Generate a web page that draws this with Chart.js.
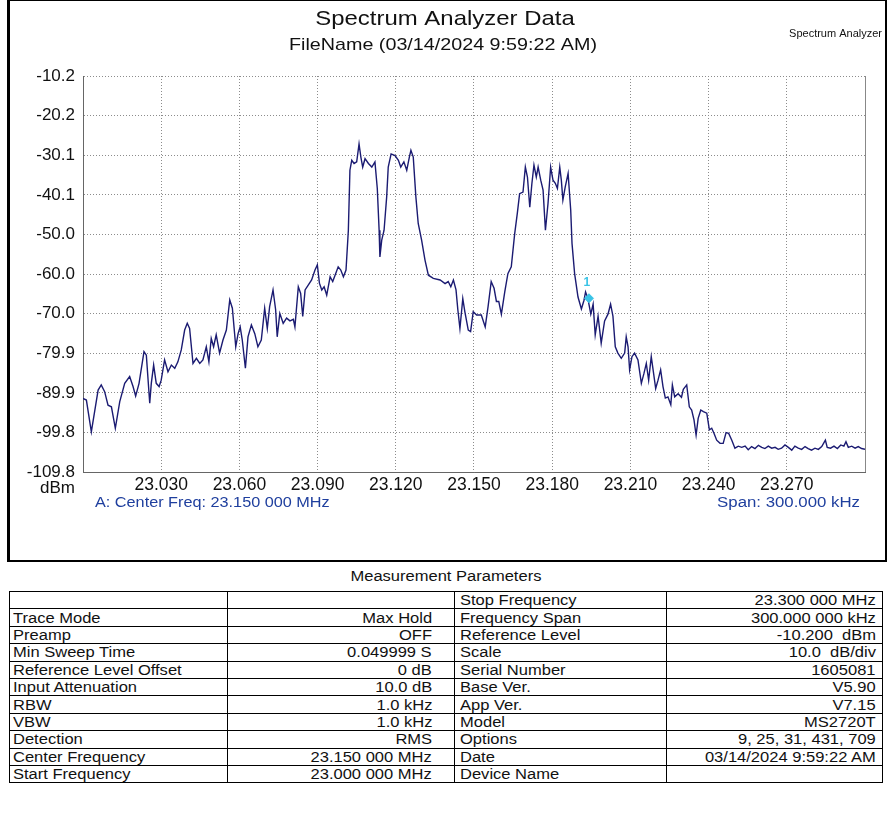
<!DOCTYPE html>
<html>
<head>
<meta charset="utf-8">
<script src="https://cdn.jsdelivr.net/npm/chart.js@4.4.1/dist/chart.umd.min.js"></script>
<style>
  html, body { margin: 0; padding: 0; background: #fff; }
  body { width: 891px; height: 820px; position: relative; overflow: hidden;
         font-family: 'Liberation Sans', Arial, sans-serif; color: #111; }
  #frame { position: absolute; left: 7px; top: 0px; width: 875px; height: 559px;
           border: 2px solid #000; border-left-width: 3px; border-top-width: 1px; box-sizing: content-box; }
  #plot { position: absolute; left: 0; top: 0; }
  #caption { position: absolute; left: 0; width: 891px; top: 568px; text-align: center;
             font-size: 14px; line-height: 17px; }
  #caption span, td span { display: inline-block; transform: scaleX(1.18); }
  #caption span { transform-origin: center; }
  td span { transform-origin: left center; }
  td.v span { transform-origin: right center; }
  table { position: absolute; left: 9px; top: 591px; border-collapse: collapse;
          font-size: 14px; table-layout: fixed; }
  td { border: 1px solid #000; height: 16.4px; padding: 0 0 0 3px; line-height: 16px;
       white-space: nowrap; overflow: hidden; }
  td.n2 { padding-left: 5px; }
  td.v { text-align: right; padding: 0 22px 0 0; }
  td.v4 { padding-right: 6px; }
</style>
</head>
<body>
<div id="frame"></div>
<canvas id="plot" width="891" height="562"></canvas>
<div id="caption"><span>Measurement Parameters</span></div>
<table id="params">
  <colgroup><col style="width:218px"><col style="width:227px"><col style="width:212px"><col style="width:216px"></colgroup>
  <tbody></tbody>
</table>
<script>
// Trace: frequency (MHz) and level (dBm), Max Hold sweep
const freqMHz = [
  23.0000, 23.0013, 23.0032, 23.0058, 23.0070, 23.0083, 23.0096, 23.0109, 23.0124, 23.0141,
  23.0160, 23.0179, 23.0192, 23.0202, 23.0215, 23.0234, 23.0243, 23.0256, 23.0262, 23.0271,
  23.0281, 23.0292, 23.0300, 23.0313, 23.0326, 23.0339, 23.0352, 23.0364, 23.0377, 23.0390,
  23.0400, 23.0409, 23.0422, 23.0435, 23.0448, 23.0460, 23.0473, 23.0483, 23.0492, 23.0501,
  23.0511, 23.0524, 23.0537, 23.0550, 23.0563, 23.0573, 23.0586, 23.0595, 23.0603, 23.0611,
  23.0623, 23.0633, 23.0646, 23.0659, 23.0671, 23.0684, 23.0697, 23.0707, 23.0716, 23.0729,
  23.0739, 23.0745, 23.0755, 23.0768, 23.0781, 23.0794, 23.0807, 23.0813, 23.0826, 23.0835,
  23.0843, 23.0852, 23.0864, 23.0877, 23.0890, 23.0899, 23.0907, 23.0916, 23.0925, 23.0935,
  23.0948, 23.0958, 23.0967, 23.0979, 23.0989, 23.0999, 23.1009, 23.1018, 23.1024, 23.1031,
  23.1040, 23.1050, 23.1059, 23.1066, 23.1073, 23.1082, 23.1095, 23.1108, 23.1120, 23.1129,
  23.1136, 23.1139, 23.1146, 23.1155, 23.1165, 23.1171, 23.1182, 23.1197, 23.1210, 23.1219,
  23.1231, 23.1242, 23.1252, 23.1258, 23.1267, 23.1277, 23.1286, 23.1299, 23.1312, 23.1325,
  23.1344, 23.1370, 23.1389, 23.1401, 23.1411, 23.1421, 23.1431, 23.1438, 23.1446, 23.1457,
  23.1465, 23.1478, 23.1487, 23.1497, 23.1510, 23.1528, 23.1543, 23.1554, 23.1566, 23.1577,
  23.1586, 23.1595, 23.1605, 23.1618, 23.1630, 23.1643, 23.1656, 23.1666, 23.1675, 23.1688,
  23.1697, 23.1705, 23.1714, 23.1722, 23.1730, 23.1739, 23.1746, 23.1756, 23.1765, 23.1774,
  23.1784, 23.1794, 23.1803, 23.1812, 23.1820, 23.1829, 23.1835, 23.1841, 23.1850, 23.1861,
  23.1871, 23.1876, 23.1886, 23.1899, 23.1912, 23.1922, 23.1928, 23.1937, 23.1948, 23.1957,
  23.1965, 23.1976, 23.1988, 23.2001, 23.2014, 23.2024, 23.2033, 23.2042, 23.2052, 23.2065,
  23.2078, 23.2084, 23.2091, 23.2097, 23.2106, 23.2116, 23.2129, 23.2142, 23.2152, 23.2161,
  23.2170, 23.2180, 23.2189, 23.2197, 23.2206, 23.2216, 23.2225, 23.2234, 23.2244, 23.2255,
  23.2261, 23.2270, 23.2283, 23.2296, 23.2303, 23.2316, 23.2326, 23.2335, 23.2344, 23.2352,
  23.2360, 23.2370, 23.2380, 23.2393, 23.2403, 23.2412, 23.2421, 23.2431, 23.2444, 23.2456,
  23.2467, 23.2477, 23.2489, 23.2501, 23.2514, 23.2527, 23.2540, 23.2552, 23.2565, 23.2578,
  23.2591, 23.2604, 23.2616, 23.2629, 23.2642, 23.2655, 23.2667, 23.2680, 23.2693, 23.2706,
  23.2719, 23.2731, 23.2744, 23.2757, 23.2770, 23.2782, 23.2795, 23.2808, 23.2821, 23.2834,
  23.2848, 23.2855, 23.2868, 23.2881, 23.2894, 23.2907, 23.2919, 23.2927, 23.2936, 23.2949,
  23.2962, 23.2974, 23.2987, 23.3000
];
const levelDbm = [
  -91.3, -91.7, -99.7, -89.2, -87.9, -89.6, -93.0, -93.4, -98.8, -92.1,
  -87.5, -85.8, -88.3, -90.7, -87.5, -79.5, -80.4, -92.5, -87.5, -82.9,
  -87.5, -88.3, -86.7, -81.6, -84.6, -82.9, -83.7, -82.1, -79.1, -74.1,
  -72.4, -73.7, -82.5, -81.2, -82.5, -81.6, -78.3, -82.1, -76.2, -78.3,
  -75.3, -79.9, -76.6, -74.1, -66.5, -68.6, -78.3, -75.0, -73.3, -76.6,
  -83.7, -75.8, -72.8, -75.0, -78.3, -76.6, -68.6, -73.7, -68.2, -64.0,
  -69.0, -75.8, -69.9, -72.4, -71.1, -71.8, -71.4, -73.3, -63.2, -64.9,
  -70.7, -64.0, -62.8, -61.5, -59.0, -57.7, -62.3, -64.0, -63.2, -65.3,
  -60.7, -61.9, -60.3, -58.2, -59.0, -60.7, -59.0, -49.0, -33.9, -31.4,
  -32.2, -31.8, -27.3, -30.6, -33.1, -31.0, -32.2, -33.1, -31.8, -38.5,
  -49.0, -55.7, -51.5, -49.0, -40.6, -33.1, -29.8, -30.2, -31.4, -33.1,
  -31.8, -33.9, -30.6, -28.9, -30.6, -40.6, -47.3, -51.5, -56.5, -60.3,
  -61.1, -61.5, -62.4, -61.9, -63.2, -61.5, -64.0, -69.0, -73.7, -66.2,
  -69.5, -74.1, -74.5, -69.5, -70.3, -70.3, -73.3, -68.2, -61.9, -63.6,
  -66.9, -66.9, -70.1, -64.5, -59.9, -58.2, -49.9, -44.8, -39.8, -39.4,
  -33.1, -35.6, -43.2, -37.3, -32.6, -35.6, -33.1, -36.4, -38.9, -49.0,
  -42.2, -33.1, -36.4, -37.2, -38.5, -33.1, -36.4, -41.4, -38.1, -34.7,
  -43.9, -52.3, -59.9, -65.8, -68.8, -66.6, -64.5, -66.2, -70.1, -67.6,
  -75.3, -70.6, -77.4, -71.8, -70.1, -67.6, -70.6, -78.3, -79.9, -81.2,
  -79.9, -75.8, -78.3, -84.1, -80.8, -79.9, -81.6, -87.5, -85.0, -82.5,
  -86.7, -80.8, -85.0, -88.8, -86.7, -84.1, -88.3, -91.2, -90.9, -92.9,
  -87.9, -90.9, -90.1, -91.0, -89.0, -87.9, -93.4, -94.2, -96.7, -100.5,
  -96.3, -94.2, -94.6, -95.0, -99.2, -98.8, -100.1, -101.8, -102.6, -102.6,
  -99.9, -100.1, -101.8, -103.8, -103.3, -103.6, -103.3, -104.2, -103.4, -103.9,
  -103.1, -103.6, -103.9, -103.3, -103.8, -103.6, -104.1, -103.8, -103.0, -103.6,
  -104.3, -103.3, -103.8, -104.1, -103.4, -103.9, -104.3, -103.8, -104.1, -103.4,
  -101.8, -103.6, -103.8, -103.3, -103.9, -103.0, -103.3, -102.2, -103.6, -103.3,
  -103.8, -103.4, -103.9, -104.1
];

// Marker 1
const markerFreqMHz = [23.1941];
const markerDbm = [-66.1];
const markerNames = ['1'];

// Axis ticks
const xTickValues = [23.030, 23.060, 23.090, 23.120, 23.150, 23.180, 23.210, 23.240, 23.270];
const yTickLabels = ['-10.2', '-20.2', '-30.1', '-40.1', '-50.0', '-60.0', '-70.0', '-79.9', '-89.9', '-99.8', '-109.8'];
const startFreqMHz = 23.000, stopFreqMHz = 23.300;

// Measurement parameter table
const paramLeftNames  = ['', 'Trace Mode', 'Preamp', 'Min Sweep Time', 'Reference Level Offset', 'Input Attenuation', 'RBW', 'VBW', 'Detection', 'Center Frequency', 'Start Frequency'];
const paramLeftValues = ['', 'Max Hold', 'OFF', '0.049999 S', '0 dB', '10.0 dB', '1.0 kHz', '1.0 kHz', 'RMS', '23.150 000 MHz', '23.000 000 MHz'];
const paramRightNames = ['Stop Frequency', 'Frequency Span', 'Reference Level', 'Scale', 'Serial Number', 'Base Ver.', 'App Ver.', 'Model', 'Options', 'Date', 'Device Name'];
const paramRightValues = ['23.300 000 MHz', '300.000 000 kHz', '-10.200\u00a0 dBm', '10.0\u00a0 dB/div', '1605081', 'V5.90', 'V7.15', 'MS2720T', '9, 25, 31, 431, 709', '03/14/2024 9:59:22 AM', ''];

const tbody = document.querySelector('#params tbody');
paramLeftNames.forEach((name, i) => {
  const tr = document.createElement('tr');
  [[name, ''], [paramLeftValues[i], 'v'], [paramRightNames[i], 'n2'], [paramRightValues[i], 'v v4']].forEach(([t, c]) => {
    const td = document.createElement('td');
    const span = document.createElement('span');
    span.textContent = t;
    td.appendChild(span);
    if (c) td.className = c;
    tr.appendChild(td);
  });
  tbody.appendChild(tr);
});

const FONT = "'Liberation Sans', Arial, sans-serif";

// text drawn with a horizontal stretch factor
function wideText(ctx, text, x, y, align, sx) {
  ctx.save();
  ctx.translate(x, y);
  ctx.scale(sx, 1);
  ctx.textAlign = align;
  ctx.fillText(text, 0, 0);
  ctx.restore();
}

// Headings, axis captions, marker label and plot border
const annotations = {
  id: 'annotations',
  afterDraw(chart) {
    const { ctx, chartArea: a, scales } = chart;
    ctx.save();
    ctx.fillStyle = '#111';
    ctx.textBaseline = 'middle';
    ctx.font = `21px ${FONT}`;
    wideText(ctx, 'Spectrum Analyzer Data', 445, 19, 'center', 1.14);
    ctx.font = `17px ${FONT}`;
    wideText(ctx, 'FileName (03/14/2024 9:59:22 AM)', 443, 45, 'center', 1.16);
    ctx.font = `11px ${FONT}`;
    wideText(ctx, 'Spectrum Analyzer', 882, 34, 'right', 1.0);

    ctx.font = `17px ${FONT}`;
    wideText(ctx, 'dBm', a.left - 8, a.bottom + 16, 'right', 1.0);

    ctx.fillStyle = '#1f3f9e';
    ctx.font = `14px ${FONT}`;
    wideText(ctx, 'A: Center Freq: 23.150 000 MHz', a.left + 12, a.bottom + 31, 'left', 1.16);
    wideText(ctx, 'Span: 300.000 kHz', a.right - 5, a.bottom + 31, 'right', 1.2);

    // right edge of the graticule
    ctx.strokeStyle = '#888';
    ctx.lineWidth = 1;
    ctx.beginPath();
    ctx.moveTo(Math.round(a.right) + 0.5, a.top);
    ctx.lineTo(Math.round(a.right) + 0.5, a.bottom);
    ctx.stroke();

    // marker number
    const mx = scales.x.getPixelForValue(markerFreqMHz[0]);
    const my = scales.y.getPixelForValue(markerDbm[0]);
    ctx.fillStyle = '#39c3e6';
    ctx.font = `bold 12px ${FONT}`;
    ctx.textAlign = 'center';
    ctx.fillText(markerNames[0], mx - 2, my - 16);
    ctx.restore();
  }
};

new Chart(document.getElementById('plot'), {
  type: 'line',
  data: {
    datasets: [
      {
        data: freqMHz.map((f, i) => ({ x: f, y: levelDbm[i] })),
        borderColor: '#1b1b72',
        borderWidth: 1.4,
        pointRadius: 0,
        tension: 0,
        order: 2
      },
      {
        type: 'scatter',
        data: markerFreqMHz.map((f, i) => ({ x: f, y: markerDbm[i] })),
        pointStyle: 'rectRot',
        pointRadius: 4.5,
        backgroundColor: '#39c3e6',
        borderColor: '#39c3e6',
        order: 1
      }
    ]
  },
  options: {
    responsive: false,
    animation: false,
    events: [],
    layout: { padding: { left: 10, right: 26, top: 76, bottom: 60 } },
    plugins: { legend: { display: false }, tooltip: { enabled: false }, title: { display: false } },
    scales: {
      x: {
        type: 'linear',
        min: startFreqMHz,
        max: stopFreqMHz,
        afterBuildTicks: s => { s.ticks = xTickValues.map(v => ({ value: v })); },
        afterFit: s => { s.height = 30; },
        ticks: {
          callback: v => v.toFixed(3),
          autoSkip: false, maxRotation: 0, padding: 3,
          color: '#111', font: { family: FONT, size: 17.5 }
        },
        grid: { color: '#8c8c8c', lineWidth: 1, drawTicks: false },
        border: { display: true, color: '#666', width: 1, dash: [1, 2] }
      },
      y: {
        min: -109.8,
        max: -10.2,
        afterBuildTicks: s => { s.ticks = yTickLabels.map(t => ({ value: parseFloat(t) })); },
        afterFit: s => { s.width = 73; },
        ticks: {
          callback: (v, i) => yTickLabels[i],
          autoSkip: false, padding: 8,
          color: '#111', font: { family: FONT, size: 17 }
        },
        grid: { color: '#8c8c8c', lineWidth: 1, drawTicks: false },
        border: { display: true, color: '#666', width: 1, dash: [1, 2] }
      }
    }
  },
  plugins: [annotations]
});
</script>
</body>
</html>
